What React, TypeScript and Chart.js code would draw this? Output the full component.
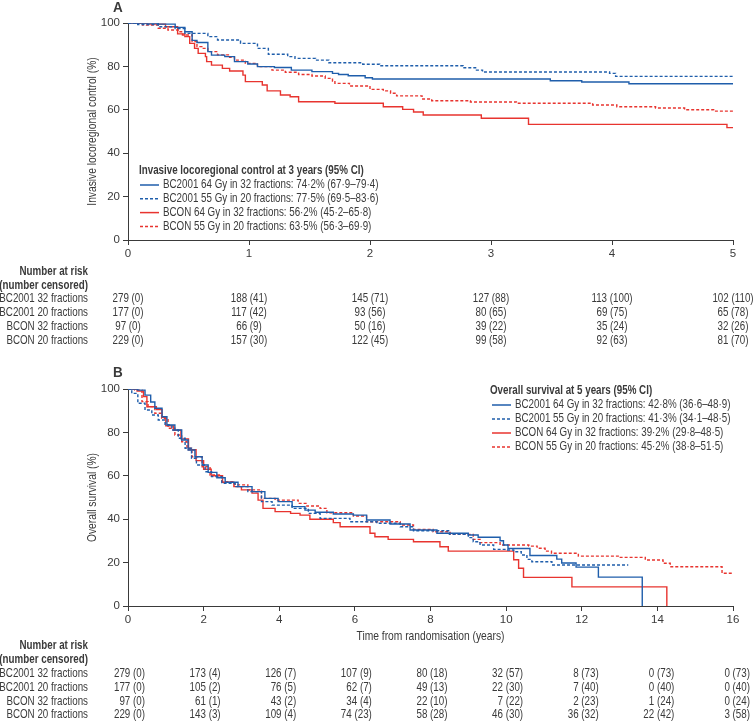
import React, { useEffect, useRef } from "react";
import { Chart, registerables } from "chart.js";
Chart.register(...registerables);

const FONT = '"Liberation Sans", Arial, sans-serif';
const SX = 0.79; // horizontal compression to mimic the condensed face
const BLUE = "#1f5eab";
const RED = "#e8342f";
const INK = "#3a3a3a";

// ---------- Panel A: invasive locoregional control ----------
const aBc32T = [0, 0.25, 0.39, 0.47, 0.53, 0.57, 0.66, 0.69, 0.8, 0.88, 0.99, 1.07, 1.21, 1.35, 1.52, 1.69, 1.74, 1.82, 1.96, 2.02, 3.49, 3.75, 4.14, 5];
const aBc32V = [100, 99.5, 98, 96, 92, 91, 86.8, 85.2, 84.5, 82.2, 81.1, 79.9, 79.5, 78.3, 77.6, 76.8, 76.3, 75.7, 74.8, 74.2, 73.4, 72.8, 72.0, 72.0];
const aBc20T = [0, 0.08, 0.25, 0.39, 0.47, 0.66, 0.74, 0.93, 1.07, 1.16, 1.32, 1.38, 1.55, 1.66, 1.94, 2.08, 2.77, 2.88, 2.93, 3.98, 4.03, 5];
const aBc20V = [100, 99.3, 98.3, 97.5, 95.2, 93.7, 92.2, 90.6, 88.3, 85.6, 84.5, 83.7, 82.9, 81.7, 81.0, 80.3, 79.4, 78.3, 77.4, 76.8, 75.4, 75.4];
const aBn32T = [0, 0.16, 0.31, 0.41, 0.47, 0.51, 0.55, 0.58, 0.64, 0.65, 0.69, 0.78, 0.84, 0.95, 0.97, 1.11, 1.15, 1.26, 1.34, 1.41, 1.71, 2.11, 2.27, 2.36, 2.44, 2.92, 3.31, 4.95, 5];
const aBn32V = [100, 99.5, 98.3, 95, 93.7, 90.6, 88.3, 86, 84.5, 82.2, 80.6, 79.1, 77.9, 76, 73, 71.4, 68.7, 66.8, 66, 63.7, 63, 61.4, 60.2, 59, 57.6, 56.1, 53.3, 51.8, 51.8];
const aBn20T = [0, 0.12, 0.25, 0.33, 0.43, 0.45, 0.53, 0.57, 0.61, 0.66, 0.74, 0.84, 0.88, 0.97, 1.07, 1.19, 1.3, 1.41, 1.52, 1.63, 1.69, 1.71, 1.83, 2.0, 2.11, 2.17, 2.22, 2.43, 2.51, 2.83, 3.21, 3.84, 4.04, 4.36, 4.6, 4.84, 5];
const aBn20V = [100, 99, 97.6, 96.8, 96, 94.5, 91.4, 89.1, 88.3, 86.8, 85.3, 84.2, 82.9, 81.4, 79.9, 78.3, 77.3, 76.3, 75.6, 74.5, 73.3, 72.2, 71, 69.4, 68.7, 67.6, 66.4, 65, 64.2, 63.6, 63, 62.2, 61.4, 60.8, 60, 59.4, 59.4];

const aLegendTitle = "Invasive locoregional control at 3 years (95% CI)";
const aLegendLabels = [
  "BC2001 64 Gy in 32 fractions: 74·2% (67·9–79·4)",
  "BC2001 55 Gy in 20 fractions: 77·5% (69·5–83·6)",
  "BCON 64 Gy in 32 fractions: 56·2% (45·2–65·8)",
  "BCON 55 Gy in 20 fractions: 63·5% (56·3–69·9)",
];
const aRiskTimes = [0, 1, 2, 3, 4, 5];
const aRiskBc32 = [279, 188, 145, 127, 113, 102];
const aCensBc32 = [0, 41, 71, 88, 100, 110];
const aRiskBc20 = [177, 117, 93, 80, 69, 65];
const aCensBc20 = [0, 42, 56, 65, 75, 78];
const aRiskBn32 = [97, 66, 50, 39, 35, 32];
const aCensBn32 = [0, 9, 16, 22, 24, 26];
const aRiskBn20 = [229, 157, 122, 99, 92, 81];
const aCensBn20 = [0, 30, 45, 58, 63, 70];

// ---------- Panel B: overall survival ----------
const bBc32T = [0, 0.26, 0.45, 0.6, 0.71, 0.9, 1.03, 1.24, 1.42, 1.59, 1.77, 1.96, 2.12, 2.35, 2.57, 2.91, 3.28, 3.62, 3.97, 4.34, 4.68, 4.95, 5.43, 5.96, 6.31, 6.93, 7.46, 8.17, 9.0, 9.26, 9.84, 9.93, 10.05, 10.63, 11.34, 11.47, 11.85, 12.44, 13.6];
const bBc32V = [100, 99.5, 97.2, 94, 91.1, 87.2, 83.4, 81.1, 76.5, 71.9, 68.8, 65, 61.6, 59.1, 57, 55, 52.7, 49.6, 48.1, 45.8, 44.2, 43.2, 42.4, 41.9, 39.6, 37.8, 35, 33.5, 32.7, 31.7, 30.1, 28.1, 26.5, 23.3, 21.6, 19.8, 17.9, 13.3, 0];
const bBc20T = [0, 0.1, 0.26, 0.45, 0.63, 0.8, 0.98, 1.16, 1.33, 1.51, 1.68, 1.81, 2.04, 2.21, 2.48, 2.83, 3.17, 3.53, 3.81, 4.34, 4.77, 5.08, 5.87, 6.58, 7.2, 7.55, 8.5, 9.0, 9.13, 9.31, 9.67, 10.02, 10.2, 10.4, 10.55, 10.68, 11.21, 13.23];
const bBc20V = [100, 98, 93.4, 90.3, 88, 85.7, 83.4, 81.1, 77.3, 72.7, 68.1, 65, 61.9, 59.6, 56.5, 55, 52.7, 48.1, 46.5, 45, 42.7, 40.4, 38.8, 38.1, 36.5, 34.7, 33.0, 31.5, 29.6, 28.1, 26.1, 25.8, 25.0, 23.5, 21.5, 20.4, 18.9, 18.9];
const bBn32T = [0, 0.24, 0.41, 0.5, 0.75, 0.9, 1.0, 1.2, 1.4, 1.6, 1.8, 2.0, 2.2, 2.5, 2.8, 3.0, 3.28, 3.44, 3.57, 3.89, 4.3, 4.55, 4.81, 5.43, 5.61, 6.4, 6.53, 6.88, 7.55, 8.25, 8.47, 10.2, 10.33, 10.46, 11.74, 14.25];
const bBn32V = [100, 99, 96.5, 91.8, 90.5, 87, 83, 81, 77, 72, 67, 63, 60, 57, 55, 53.5, 52, 48.8, 45, 43.5, 42.7, 41.9, 40, 38.4, 36.5, 33.5, 31.9, 30.7, 29.6, 27.3, 25.3, 21.3, 17.4, 13.2, 8.8, 0];
const bBn20T = [0, 0.18, 0.37, 0.53, 0.71, 0.89, 1.06, 1.24, 1.42, 1.56, 1.69, 1.96, 2.17, 2.48, 2.83, 3.17, 3.53, 3.89, 4.5, 4.73, 5.08, 5.26, 5.96, 6.31, 7.2, 7.55, 8.07, 8.52, 9.13, 9.31, 9.84, 10.6, 10.82, 11.03, 11.2, 11.91, 13.02, 13.68, 14.15, 14.34, 15.71, 16];
const bBn20V = [100, 99.5, 94.2, 91.9, 88.8, 86.5, 81.9, 78.8, 75.7, 72.7, 68.8, 64.2, 60.4, 57.3, 55.8, 53.5, 49.6, 48.8, 47.3, 46.1, 45, 43, 41.5, 38.8, 37.3, 35.3, 34.2, 33, 30.7, 29.2, 28.1, 27.6, 26.6, 25.3, 24.3, 23, 22.4, 21.2, 19.7, 18.1, 15.1, 15.1];

const bLegendTitle = "Overall survival at 5 years (95% CI)";
const bLegendLabels = [
  "BC2001 64 Gy in 32 fractions: 42·8% (36·6–48·9)",
  "BC2001 55 Gy in 20 fractions: 41·3% (34·1–48·5)",
  "BCON 64 Gy in 32 fractions: 39·2% (29·8–48·5)",
  "BCON 55 Gy in 20 fractions: 45·2% (38·8–51·5)",
];
const bRiskTimes = [0, 2, 4, 6, 8, 10, 12, 14, 16];
const bRiskBc32 = [279, 173, 126, 107, 80, 32, 8, 0, 0];
const bCensBc32 = [0, 4, 7, 9, 18, 57, 73, 73, 73];
const bRiskBc20 = [177, 105, 76, 62, 49, 22, 7, 0, 0];
const bCensBc20 = [0, 2, 5, 7, 13, 30, 40, 40, 40];
const bRiskBn32 = [97, 61, 43, 34, 22, 7, 2, 1, 0];
const bCensBn32 = [0, 1, 2, 4, 10, 22, 23, 24, 24];
const bRiskBn20 = [229, 143, 109, 74, 58, 46, 36, 22, 3];
const bCensBn20 = [0, 3, 4, 23, 28, 30, 32, 42, 58];

const rowLabels = ["BC2001 32 fractions", "BC2001 20 fractions", "BCON 32 fractions", "BCON 20 fractions"];
const seriesStyles = [
  { color: BLUE, dash: [] as number[] },
  { color: BLUE, dash: [3, 2] },
  { color: RED, dash: [] as number[] },
  { color: RED, dash: [3, 2] },
];

type PanelCfg = {
  letter: string;
  letterY: number;
  yTitle: string;
  xTitle?: string;
  xTitleY?: number;
  top: number;
  bottom: number;
  xmax: number;
  xstep: number;
  series: { t: number[]; v: number[] }[];
  legend: { titleX: number; titleY: number; lineX: number; textX: number; y0: number; dy: number; title: string; labels: string[] };
  table: { times: number[]; risk: number[][]; cens: number[][]; headY: number; rowY0: number; dy: number; align: "center" | "right"; offset: number };
};

function txt(c: CanvasRenderingContext2D, s: string, x: number, y: number, align: CanvasTextAlign, font: string, sx = SX) {
  c.save();
  c.translate(x, y);
  c.scale(sx, 1);
  c.font = font;
  c.textAlign = align;
  c.textBaseline = "middle";
  c.fillText(s, 0, 0);
  c.restore();
}

function makeOverlay(cfg: PanelCfg) {
  return {
    id: "overlay" + cfg.letter,
    afterDraw(chart: any) {
      const c: CanvasRenderingContext2D = chart.ctx;
      const area = chart.chartArea;
      const xs = chart.scales.x;
      const reg = `12.4px ${FONT}`;
      const bold = `bold 12.4px ${FONT}`;
      c.save();
      c.fillStyle = INK;
      // panel letter
      txt(c, cfg.letter, 113, cfg.letterY, "left", `bold 15px ${FONT}`, 0.9);
      // y title
      c.save();
      c.translate(92, (area.top + area.bottom) / 2);
      c.rotate(-Math.PI / 2);
      txt(c, cfg.yTitle, 0, 0, "center", `13px ${FONT}`);
      c.restore();
      // x title
      if (cfg.xTitle) txt(c, cfg.xTitle, (area.left + area.right) / 2, cfg.xTitleY || 0, "center", `13px ${FONT}`);
      // legend
      const L = cfg.legend;
      txt(c, L.title, L.titleX, L.titleY, "left", bold);
      L.labels.forEach((lab, i) => {
        const y = L.y0 + i * L.dy;
        const st = seriesStyles[i];
        c.save();
        c.strokeStyle = st.color;
        c.lineWidth = 1.5;
        c.setLineDash(st.dash);
        c.beginPath();
        c.moveTo(L.lineX, y);
        c.lineTo(L.lineX + 19, y);
        c.stroke();
        c.restore();
        txt(c, lab, L.textX, y, "left", reg);
      });
      // risk table
      const T = cfg.table;
      txt(c, "Number at risk", 88, T.headY, "right", bold);
      txt(c, "(number censored)", 88, T.headY + 14, "right", bold);
      rowLabels.forEach((lab, r) => {
        const y = T.rowY0 + r * T.dy;
        txt(c, lab, 88, y, "right", reg);
        T.times.forEach((t, k) => {
          const px = xs.getPixelForValue(t) + T.offset;
          txt(c, `${T.risk[r][k]} (${T.cens[r][k]})`, px, y, T.align, reg);
        });
      });
      c.restore();
    },
  };
}

function buildChart(canvas: HTMLCanvasElement, cfg: PanelCfg) {
  const tickFont = { family: FONT, size: 11.5 };
  return new Chart(canvas, {
    type: "line",
    data: {
      datasets: cfg.series.map((s, i) => ({
        data: s.t.map((t, k) => ({ x: t, y: s.v[k] })),
        borderColor: seriesStyles[i].color,
        borderDash: seriesStyles[i].dash,
        borderWidth: 1.4,
        pointRadius: 0,
        stepped: "before" as any,
        fill: false,
      })),
    },
    options: {
      responsive: false,
      animation: false,
      events: [],
      layout: { padding: { left: 0, top: cfg.top, right: 754 - 733, bottom: 721 - cfg.bottom - 20 } },
      plugins: { legend: { display: false }, tooltip: { enabled: false } },
      scales: {
        x: {
          type: "linear",
          min: 0,
          max: cfg.xmax,
          ticks: { stepSize: cfg.xstep, color: INK, font: tickFont, padding: 2, maxRotation: 0, autoSkip: false },
          grid: { drawOnChartArea: false, tickLength: 5, color: INK },
          border: { color: INK, width: 1 },
          afterFit: (s: any) => { s.height = 20; },
        },
        y: {
          min: 0,
          max: 100,
          ticks: { stepSize: 20, color: INK, font: tickFont, padding: 3 },
          grid: { drawOnChartArea: false, tickLength: 5, color: INK },
          border: { color: INK, width: 1 },
          afterFit: (s: any) => { s.width = 128; },
        },
      },
    } as any,
    plugins: [makeOverlay(cfg)],
  });
}

const cfgA: PanelCfg = {
  letter: "A",
  letterY: 8,
  yTitle: "Invasive locoregional control (%)",
  top: 23,
  bottom: 240,
  xmax: 5,
  xstep: 1,
  series: [
    { t: aBc32T, v: aBc32V },
    { t: aBc20T, v: aBc20V },
    { t: aBn32T, v: aBn32V },
    { t: aBn20T, v: aBn20V },
  ],
  legend: { titleX: 139, titleY: 171, lineX: 140, textX: 163, y0: 185, dy: 13.8, title: aLegendTitle, labels: aLegendLabels },
  table: {
    times: aRiskTimes,
    risk: [aRiskBc32, aRiskBc20, aRiskBn32, aRiskBn20],
    cens: [aCensBc32, aCensBc20, aCensBn32, aCensBn20],
    headY: 272,
    rowY0: 299,
    dy: 14,
    align: "center",
    offset: 0,
  },
};

const cfgB: PanelCfg = {
  letter: "B",
  letterY: 373,
  yTitle: "Overall survival (%)",
  xTitle: "Time from randomisation (years)",
  xTitleY: 636,
  top: 389,
  bottom: 606,
  xmax: 16,
  xstep: 2,
  series: [
    { t: bBc32T, v: bBc32V },
    { t: bBc20T, v: bBc20V },
    { t: bBn32T, v: bBn32V },
    { t: bBn20T, v: bBn20V },
  ],
  legend: { titleX: 490, titleY: 391, lineX: 492, textX: 515, y0: 405, dy: 14, title: bLegendTitle, labels: bLegendLabels },
  table: {
    times: bRiskTimes,
    risk: [bRiskBc32, bRiskBc20, bRiskBn32, bRiskBn20],
    cens: [bCensBc32, bCensBc20, bCensBn32, bCensBn20],
    headY: 646,
    rowY0: 674,
    dy: 13.6,
    align: "right",
    offset: 17,
  },
};

export default function App() {
  const refA = useRef<HTMLCanvasElement>(null);
  const refB = useRef<HTMLCanvasElement>(null);
  useEffect(() => {
    const a = buildChart(refA.current!, cfgA);
    const b = buildChart(refB.current!, cfgB);
    return () => {
      a.destroy();
      b.destroy();
    };
  }, []);
  const cs: React.CSSProperties = { position: "absolute", left: 0, top: 0, width: 754, height: 721 };
  return (
    <div style={{ position: "absolute", left: 0, top: 0, width: 754, height: 721, background: "#fff" }}>
      <canvas ref={refA} width={754} height={721} style={cs} />
      <canvas ref={refB} width={754} height={721} style={cs} />
    </div>
  );
}
